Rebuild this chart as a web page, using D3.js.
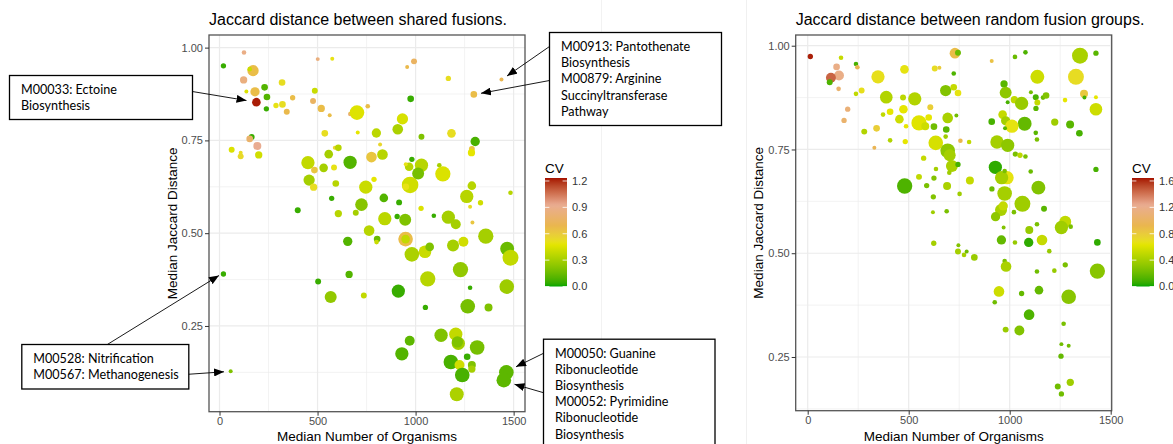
<!DOCTYPE html>
<html><head><meta charset="utf-8">
<script src="https://cdn.jsdelivr.net/npm/d3@7"></script>
<style>html,body{margin:0;padding:0;background:#fff;}svg{display:block;}</style>
</head><body><svg id="c" width="1173" height="444"></svg>
<script>
// ---------------- DATA ----------------
const xTicks = [0, 500, 1000, 1500];
const yTicks = [0.25, 0.50, 0.75, 1.00];
const cvTicksLeft = [0.0, 0.3, 0.6, 0.9, 1.2];
const cvTicksRight = [0.0, 0.4, 0.8, 1.2, 1.6];

// Left panel: shared fusions
const leftX = [20,125,171,154,123,181,137,230,242,188,239,288,321,319,343,373,486,477,519,562,501,575,667,701,756,537,705,800,909,933,957,992,975,1167,1297,1438,1183,1030,1304,1287,1285,164,154,193,62,108,108,200,451,557,588,606,666,531,584,484,775,831,819,457,480,593,746,788,724,838,572,399,606,695,843,916,906,947,972,950,967,950,981,1030,1013,1121,1139,1028,1093,1167,1287,1261,1331,1278,1484,
1205,1290,763,654,804,801,949,949,981,1048,1072,1191,1244,1358,1467,1484,20,503,661,567,736,912,1062,1229,1050,1278,1266,1372,1465,1130,1205,1218,1213,1314,970,930,1263,1180,1224,1287,1287,1238,1463,1450,1210,57];
const leftY = [0.951,0.987,0.938,0.942,0.913,0.881,0.882,0.893,0.867,0.853,0.835,0.844,0.847,0.906,0.827,0.865,0.884,0.856,0.836,0.818,0.969,0.970,0.821,0.825,0.842,0.769,0.771,0.770,0.780,0.808,0.948,0.963,0.862,0.917,0.874,0.914,0.769,0.760,0.747,0.727,0.717,0.759,0.754,0.735,0.725,0.717,0.707,0.711,0.690,0.713,0.730,0.730,0.691,0.676,0.677,0.670,0.705,0.712,0.739,0.643,0.624,0.634,0.624,0.645,0.577,0.595,0.594,0.562,0.553,0.555,0.539,0.583,0.545,0.536,0.630,0.625,0.679,0.686,0.699,0.683,0.661,0.683,0.660,0.567,0.547,0.543,0.628,0.599,0.582,0.571,0.609,
0.524,0.529,0.507,0.478,0.484,0.476,0.484,0.484,0.443,0.450,0.463,0.467,0.477,0.492,0.458,0.434,0.390,0.370,0.389,0.328,0.332,0.344,0.377,0.402,0.300,0.353,0.303,0.300,0.356,0.225,0.228,0.203,0.207,0.192,0.210,0.175,0.167,0.153,0.145,0.145,0.134,0.118,0.125,0.104,0.066,0.128];
const leftCV = [0.05,0.88,0.66,0.40,0.85,0.66,0.45,0.10,0.10,1.22,0.05,0.50,0.52,0.52,0.68,0.66,0.40,0.75,0.66,0.66,0.85,0.50,0.80,0.46,0.66,0.52,0.48,0.36,0.32,0.44,0.68,0.75,0.05,0.52,0.66,0.70,0.52,0.20,0.08,0.62,0.48,0.05,0.78,0.92,0.45,0.52,0.54,0.42,0.38,0.30,0.55,0.35,0.10,0.30,0.50,0.62,0.62,0.35,0.55,0.30,0.52,0.35,0.40,0.48,0.22,0.10,0.05,0.05,0.35,0.30,0.36,0.05,0.05,0.20,0.42,0.50,0.35,0.50,0.05,0.35,0.18,0.30,0.45,0.45,0.05,0.30,0.35,0.35,0.42,0.52,0.35,
0.30,0.62,0.35,0.10,0.15,0.40,0.66,0.38,0.32,0.40,0.20,0.30,0.42,0.30,0.15,0.38,0.05,0.05,0.10,0.25,0.38,0.05,0.35,0.25,0.05,0.05,0.18,0.20,0.28,0.20,0.38,0.30,0.20,0.18,0.12,0.10,0.05,0.08,0.42,0.20,0.30,0.08,0.12,0.12,0.32,0.20];
const leftN = [16,12,72,12,30,49,9,25,25,42,16,16,25,25,20,16,20,20,30,9,9,9,12,121,12,25,9,49,64,72,9,20,25,16,25,9,42,20,49,20,30,20,25,36,20,9,20,30,100,42,9,25,100,42,20,25,64,64,9,72,30,25,100,16,90,42,16,20,30,20,100,20,16,81,156,25,42,9,16,100,81,12,132,16,12,100,42,100,16,9,12,
56,9,64,49,25,12,121,42,121,90,42,81,56,132,110,144,16,20,30,81,20,100,132,132,16,12,121,36,121,100,100,100,72,121,56,100,25,121,56,36,30,121,121,121,110,9];

// Right panel: random fusion groups
const rightX = [13,165,143,155,115,109,153,239,246,267,239,198,180,280,341,330,348,389,479,472,530,408,373,474,454,487,551,599,582,607,408,483,625,629,652,729,744,723,683,723,744,693,736,686,683,756,799,634,693,703,574,635,714,744,701,551,625,480,589,690,803,752,622,620,688,911,1026,1078,1137,972,980,990,1023,1059,1105,1129,1137,1130,1165,1180,911,965,980,1074,1011,977,1129,1135,1223,1274,1299,1345,1348,1427,1328,1368,1370,1427,1427,1427,937,990,1028,1051,1078,929,987,960,975,912,975,1104,1142,1063,957,968,930,1021,1170,
970,1097,1135,1275,1256,1302,959,1026,1094,1160,1196,1434,624,746,744,774,787,825,975,982,1135,1221,1275,1434,947,926,1059,1145,1292,1096,980,1048,1267,1256,1292,1254,1238,1300,1256];
const rightY = [0.974,0.971,0.949,0.928,0.923,0.912,0.896,0.956,0.948,0.892,0.884,0.847,0.820,0.793,0.801,0.754,0.925,0.876,0.943,0.875,0.872,0.841,0.834,0.847,0.823,0.806,0.814,0.827,0.806,0.852,0.772,0.769,0.805,0.945,0.947,0.982,0.983,0.933,0.892,0.900,0.886,0.826,0.832,0.798,0.781,0.771,0.768,0.766,0.747,0.736,0.729,0.703,0.710,0.714,0.694,0.684,0.681,0.662,0.663,0.662,0.675,0.643,0.636,0.599,0.601,0.963,0.973,0.984,0.925,0.908,0.887,0.864,0.870,0.861,0.888,0.876,0.863,0.849,0.875,0.880,0.817,0.834,0.819,0.812,0.806,0.801,0.790,0.774,0.816,0.869,0.810,0.789,0.976,0.982,0.925,0.884,0.875,0.876,0.847,0.702,0.768,0.760,0.739,0.736,0.733,0.707,0.682,0.682,0.698,0.655,0.644,0.697,0.658,0.619,0.604,0.614,0.588,0.599,0.607,
0.562,0.556,0.570,0.576,0.562,0.564,0.532,0.526,0.526,0.532,0.505,0.526,0.524,0.519,0.504,0.496,0.504,0.490,0.481,0.468,0.456,0.458,0.472,0.457,0.408,0.382,0.403,0.411,0.395,0.352,0.316,0.314,0.330,0.281,0.277,0.252,0.179,0.189,0.161];
const rightCV = [1.62,0.52,1.18,1.18,1.45,0.12,1.05,0.10,0.95,0.68,0.50,1.10,1.05,0.45,0.78,0.95,0.68,0.45,0.66,0.48,0.45,0.64,0.50,0.64,0.55,0.64,0.62,0.64,0.55,0.78,0.45,0.64,0.22,0.70,0.80,0.88,0.20,0.12,0.28,0.52,0.66,0.42,0.22,0.15,0.38,0.92,0.50,0.58,0.32,0.40,0.52,0.40,0.42,0.10,0.38,0.50,0.28,0.12,0.25,0.42,0.52,0.38,0.28,0.38,0.25,0.85,0.20,0.12,0.55,0.15,0.32,0.10,0.50,0.36,0.22,0.10,0.52,0.15,0.20,0.28,0.10,0.52,0.40,0.18,0.66,0.15,0.15,0.25,0.38,0.64,0.15,0.10,0.42,0.15,0.70,0.82,0.10,0.64,0.55,0.10,0.40,0.32,0.25,0.48,0.25,0.05,0.66,0.40,0.25,0.20,0.40,0.20,0.28,0.38,0.42,0.52,0.32,0.25,0.15,
0.28,0.35,0.25,0.50,0.38,0.25,0.18,0.35,0.05,0.52,0.35,0.05,0.40,0.28,0.40,0.40,0.22,0.36,0.25,0.42,0.22,0.35,0.25,0.30,0.55,0.22,0.18,0.18,0.30,0.12,0.36,0.28,0.25,0.22,0.22,0.18,0.22,0.38,0.22];
const rightN = [16,12,25,56,56,20,12,12,12,20,12,16,16,20,25,9,100,90,42,20,100,25,12,42,42,12,132,25,36,20,12,16,25,20,9,64,20,12,72,25,25,64,9,25,12,12,12,121,121,81,16,12,81,16,12,20,16,132,16,36,36,12,16,9,12,9,12,12,110,30,81,9,30,100,9,20,20,16,12,25,25,42,49,110,100,9,12,12,30,12,36,25,144,16,144,36,9,9,90,16,100,100,16,16,12,100,100,100,12,16,121,12,110,144,81,49,49,12,20,
9,36,12,81,100,12,49,12,49,64,12,25,16,9,20,12,9,25,12,64,12,12,16,132,64,12,16,42,121,64,20,56,12,9,9,16,20,30,16];

// Annotations (left panel)
const notes = [
  {lines:["M00033: Ectoine","Biosynthesis"], box:[9.5,75.5,183,44], arrows:[[192.3,91.5,246.5,100.5]]},
  {lines:["M00913: Pantothenate","Biosynthesis","M00879: Arginine","Succinyltransferase","Pathway"], box:[549.5,32.5,172,93], arrows:[[549.5,46.5,507,76],[549.5,80.5,481,93.3]]},
  {lines:["M00528: Nitrification","M00567: Methanogenesis"], box:[21.8,344.5,167,44.5], arrows:[[107.3,344.5,219,275.5],[177.7,375,224,371.8]]},
  {lines:["M00050: Guanine","Ribonucleotide","Biosynthesis","M00052: Pyrimidine","Ribonucleotide","Biosynthesis"], box:[543.5,339.2,171.5,120], arrows:[[543.5,353.3,516,366.8],[543.5,392.7,514.5,384.3]]}
];

// ---------------- DRAWING ----------------
const svg = d3.select("#c");
const FONT = "'Liberation Sans', Arial, Helvetica, sans-serif";
const stopF = [0, 0.39, 0.56, 0.75, 1];
const stopC = ["#00A600", "#E6E600", "#EAB64E", "#E9AC92", "#A50F00"];
function colorScale(cvMax){
  return d3.scaleLinear().domain(stopF.map(f=>f*cvMax)).range(stopC).interpolate(d3.interpolateLab).clamp(true);
}
const rScale = d3.scaleSqrt().domain([0,156]).range([0,8.3]);

// faint sub-figure edges
svg.append("line").attr("x1",601.5).attr("x2",601.5).attr("y1",0).attr("y2",444).attr("stroke","#f2f2f2").attr("stroke-width",1);
svg.append("line").attr("x1",746.5).attr("x2",746.5).attr("y1",0).attr("y2",444).attr("stroke","#f0f0f0").attr("stroke-width",1);

const defs = svg.append("defs");
defs.append("marker").attr("id","arrow").attr("viewBox","0 0 10 8").attr("refX",10).attr("refY",4)
  .attr("markerWidth",10).attr("markerHeight",8).attr("markerUnits","userSpaceOnUse").attr("orient","auto")
  .append("path").attr("d","M0,0 L10,4 L0,8 Z").attr("fill","#000");

function drawPanel(cfg){
  const g = svg.append("g");
  const x = d3.scaleLinear().domain(cfg.xDom).range([cfg.x0, cfg.x1]);
  const y = d3.scaleLinear().domain(cfg.yDom).range([cfg.y1, cfg.y0]);
  const col = colorScale(cfg.cvMax);
  g.append("rect").attr("x",cfg.x0).attr("y",cfg.y0).attr("width",cfg.x1-cfg.x0).attr("height",cfg.y1-cfg.y0).attr("fill","#fff");
  const xMinor = [250,750,1250], yMinor = [0.125,0.375,0.625,0.875];
  const clipId = "clip"+cfg.id;
  defs.append("clipPath").attr("id",clipId).append("rect").attr("x",cfg.x0).attr("y",cfg.y0).attr("width",cfg.x1-cfg.x0).attr("height",cfg.y1-cfg.y0);
  const grid = g.append("g").attr("clip-path",`url(#${clipId})`);
  grid.selectAll(".xm").data(xMinor).join("line").attr("x1",d=>x(d)).attr("x2",d=>x(d)).attr("y1",cfg.y0).attr("y2",cfg.y1).attr("stroke","#EBEBEB").attr("stroke-width",0.6);
  grid.selectAll(".ym").data(yMinor).join("line").attr("y1",d=>y(d)).attr("y2",d=>y(d)).attr("x1",cfg.x0).attr("x2",cfg.x1).attr("stroke","#EBEBEB").attr("stroke-width",0.6);
  grid.selectAll(".xM").data(xTicks).join("line").attr("x1",d=>x(d)).attr("x2",d=>x(d)).attr("y1",cfg.y0).attr("y2",cfg.y1).attr("stroke","#EBEBEB").attr("stroke-width",1.2);
  grid.selectAll(".yM").data(yTicks).join("line").attr("y1",d=>y(d)).attr("y2",d=>y(d)).attr("x1",cfg.x0).attr("x2",cfg.x1).attr("stroke","#EBEBEB").attr("stroke-width",1.2);

  const pts = cfg.xs.map((v,i)=>({x:v, y:cfg.ys[i], cv:cfg.cvs[i], n:cfg.ns[i]}));
  grid.selectAll("circle").data(pts).join("circle")
    .attr("cx",d=>x(d.x)).attr("cy",d=>y(d.y)).attr("r",d=>rScale(d.n)).attr("fill",d=>col(d.cv));

  g.append("rect").attr("x",cfg.x0).attr("y",cfg.y0).attr("width",cfg.x1-cfg.x0).attr("height",cfg.y1-cfg.y0)
    .attr("fill","none").attr("stroke","#555").attr("stroke-width",1.3);

  // axes
  const xAxis = g.append("g").attr("transform",`translate(0,${cfg.y1})`)
    .call(d3.axisBottom(x).tickValues(xTicks).tickFormat(d3.format("d")).tickSize(4).tickPadding(2));
  const yAxis = g.append("g").attr("transform",`translate(${cfg.x0},0)`)
    .call(d3.axisLeft(y).tickValues(yTicks).tickFormat(d3.format(".2f")).tickSize(4).tickPadding(2));
  [xAxis,yAxis].forEach(a=>{
    a.select(".domain").remove();
    a.selectAll(".tick line").attr("stroke","#333").attr("stroke-width",1);
    a.selectAll(".tick text").attr("fill","#4D4D4D").style("font-family",FONT).style("font-size","11px");
  });

  // titles
  g.append("text").attr("x",cfg.x0).attr("y",25).text(cfg.title)
    .style("font-family",FONT).style("font-size","16px").attr("fill","#000");
  g.append("text").attr("x",(cfg.x0+cfg.x1)/2).attr("y",440.5).attr("text-anchor","middle").text("Median Number of Organisms")
    .style("font-family",FONT).style("font-size","13.5px").attr("fill","#000");
  g.append("text").attr("transform",`translate(${cfg.yTitleX},${(cfg.y0+cfg.y1)/2}) rotate(-90)`).attr("text-anchor","middle")
    .text("Median Jaccard Distance").style("font-family",FONT).style("font-size","13.5px").attr("fill","#000");

  // colorbar
  const lg = svg.append("g");
  const gradId = "grad"+cfg.id;
  const grad = defs.append("linearGradient").attr("id",gradId).attr("x1",0).attr("x2",0).attr("y1",1).attr("y2",0);
  d3.range(0,1.0001,0.02).forEach(t=>grad.append("stop").attr("offset",t).attr("stop-color",col(t*cfg.cvMax)));
  const bx = cfg.legX, bTop = 178, bBot = 286.5, bw = 22;
  lg.append("text").attr("x",bx).attr("y",173.3).text("CV").style("font-family",FONT).style("font-size","13.5px").attr("fill","#000");
  lg.append("rect").attr("x",bx).attr("y",bTop).attr("width",bw).attr("height",bBot-bTop).attr("fill",`url(#${gradId})`);
  const cy = d3.scaleLinear().domain([0,cfg.cvMax]).range([bBot,bTop]);
  cfg.cvTicks.forEach(t=>{
    lg.append("line").attr("x1",bx).attr("x2",bx+4.4).attr("y1",cy(t)).attr("y2",cy(t)).attr("stroke","#fff").attr("stroke-width",0.8);
    lg.append("line").attr("x1",bx+bw-4.4).attr("x2",bx+bw).attr("y1",cy(t)).attr("y2",cy(t)).attr("stroke","#fff").attr("stroke-width",0.8);
    lg.append("text").attr("x",bx+bw+5).attr("y",cy(t)).attr("dy","0.35em").text(d3.format(".1f")(t))
      .style("font-family",FONT).style("font-size","11px").attr("fill","#333");
  });
}

drawPanel({id:"L", x0:209, x1:525, y0:35, y1:411.7, xDom:[-53.6,1558], yDom:[0.019,1.034],
  xs:leftX, ys:leftY, cvs:leftCV, ns:leftN, cvMax:1.234, cvTicks:cvTicksLeft,
  title:"Jaccard distance between shared fusions.", yTitleX:176.5, legX:545});
drawPanel({id:"R", x0:795.7, x1:1111.7, y0:35, y1:410.7, xDom:[-59.4,1505], yDom:[0.1206,1.0258],
  xs:rightX, ys:rightY, cvs:rightCV, ns:rightN, cvMax:1.645, cvTicks:cvTicksRight,
  title:"Jaccard distance between random fusion groups.", yTitleX:763, legX:1132});

// annotations
const ag = svg.append("g");
notes.forEach(nt=>{
  const [bx,by,bw,bh] = nt.box;
  nt.arrows.forEach(a=>{
    ag.append("line").attr("x1",a[0]).attr("y1",a[1]).attr("x2",a[2]).attr("y2",a[3])
      .attr("stroke","#000").attr("stroke-width",0.9).attr("marker-end","url(#arrow)");
  });
  ag.append("rect").attr("x",bx).attr("y",by).attr("width",bw).attr("height",bh)
    .attr("fill","#fff").attr("stroke","#000").attr("stroke-width",1.3);
  nt.lines.forEach((ln,i)=>{
    ag.append("text").attr("x",bx+11.5).attr("y",by+14+i*16.2).attr("dy","0.35em").text(ln)
      .style("font-family","Lato, 'Open Sans', sans-serif").style("font-size","12.6px").attr("fill","#000");
  });
});
</script></body></html>
